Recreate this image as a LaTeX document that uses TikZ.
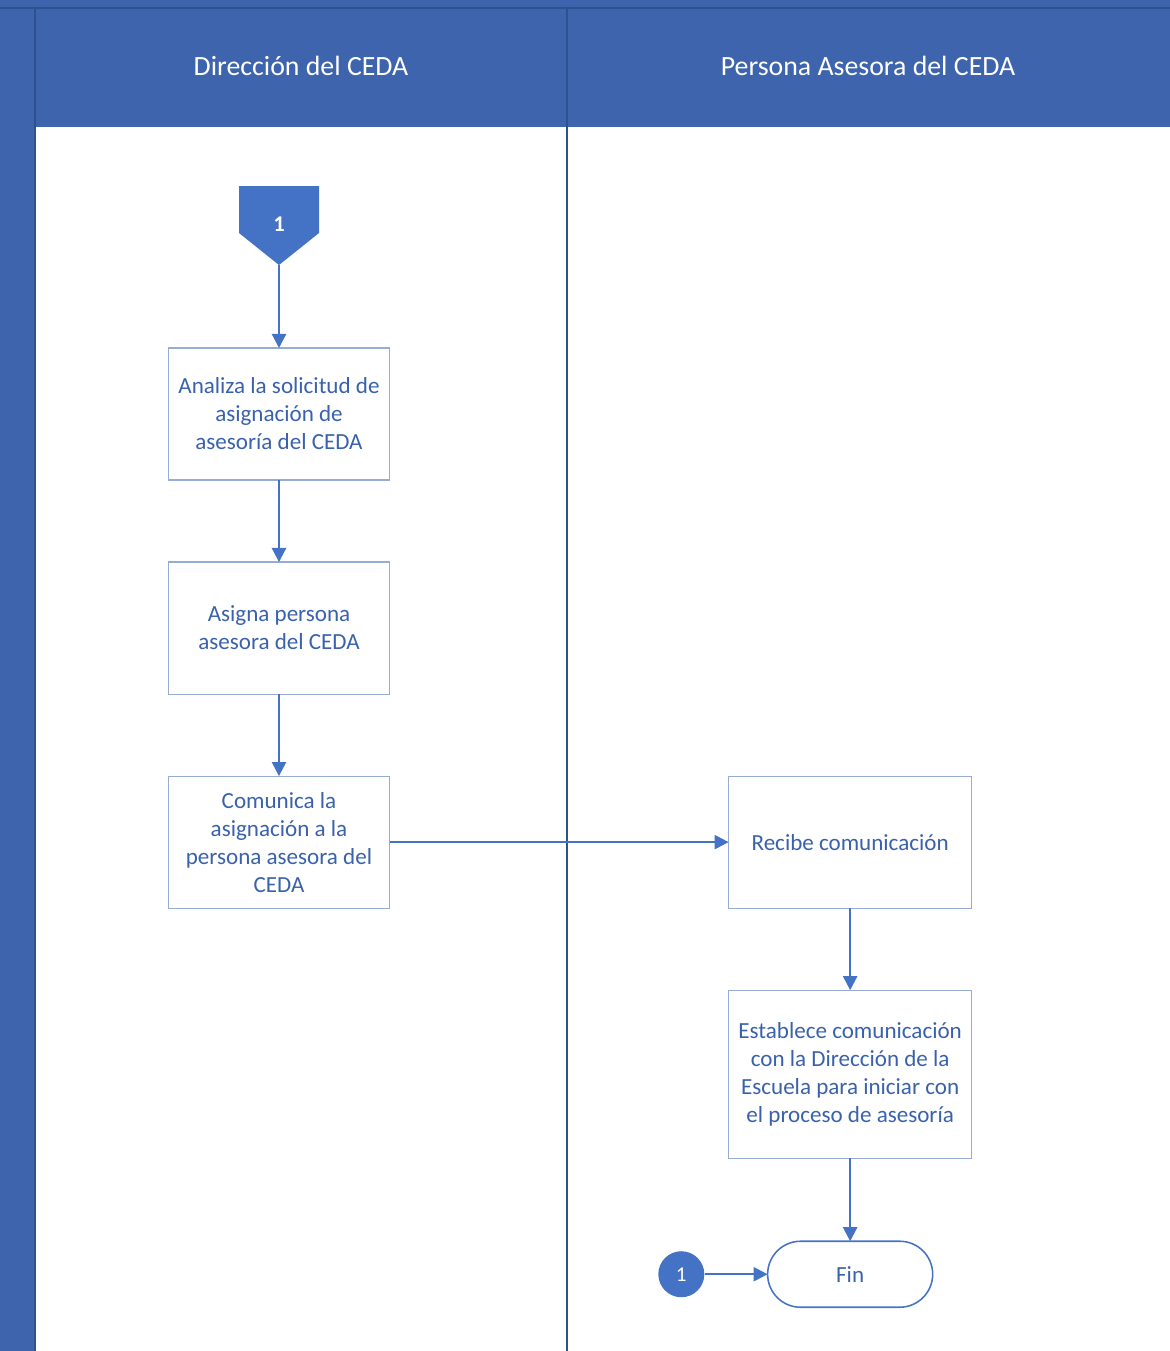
\documentclass[tikz,border=0pt]{standalone}
\usepackage{fontspec}
\setmainfont{Carlito}
\usetikzlibrary{arrows.meta,positioning}
\definecolor{hdrblue}{RGB}{61,100,173}
\definecolor{edgeblue}{RGB}{47,82,143}
\definecolor{lineblue}{RGB}{68,114,196}
\definecolor{txtblue}{RGB}{58,98,172}
\definecolor{boxline}{RGB}{150,172,212}

\tikzset{
  lane/.style={text=white,font=\fontsize{19.8}{24}\selectfont},
  taskbox/.style={draw=boxline,line width=0.8pt,fill=white,text=txtblue,
    minimum width=5.525cm,minimum height=3.3cm,align=center,outer sep=0pt,
    font=\fontsize{16.4}{19.9}\selectfont},
  endbox/.style={draw=lineblue,line width=1.1pt,rounded corners=0.825cm,text=txtblue,
    minimum width=4.125cm,minimum height=1.65cm,outer sep=0pt,
    font=\fontsize{16.4}{19.9}\selectfont},
  onpage/.style={circle,fill=lineblue,text=white,minimum size=1.15cm,inner sep=0pt,
    font=\fontsize{15}{17}\selectfont},
  flow/.style={->,draw=lineblue,line width=1.6pt}
}

\begin{document}
\begin{tikzpicture}[x=0.025cm,y=-0.025cm,>={Triangle[length=10pt,width=10pt]},node distance=2cm]
  \useasboundingbox (0,0) rectangle (1170,1351);
  % pools and lanes
  \fill[hdrblue] (0,0) rectangle (1170,127);
  \fill[hdrblue] (0,0) rectangle (35,1351);
  \draw[edgeblue,line width=0.8pt] (0,8) -- (1170,8);
  \draw[edgeblue,line width=0.8pt] (35,8) -- (35,1351);
  \draw[edgeblue,line width=1pt] (567,8) -- (567,1351);
  \node[lane] (h1) at (301,66) {Dirección del CEDA};
  \node[lane] (h2) at (868,66) {Persona Asesora del CEDA};

  % off-page connector
  \fill[lineblue] (239,186) -- (319,186) -- (319,233) -- (279,265) -- (239,233) -- cycle;
  \node[text=white,font=\fontsize{16}{18}\selectfont\bfseries] (off1) at (279,224) {1};
  \coordinate (offtip) at (279,265);

  \node[taskbox] (a1) at (279,414) {Analiza la solicitud de\\asignación de\\asesoría del CEDA};
  \node[taskbox] (a2) [below=2.05cm of a1] {Asigna persona\\asesora del CEDA};
  \node[taskbox] (a3) [below=2.05cm of a2] {Comunica la\\asignación a la\\persona asesora del\\CEDA};

  \node[taskbox,minimum width=6.075cm] (b1) [right=8.475cm of a3] {Recibe comunicación};
  \node[taskbox,minimum width=6.075cm,minimum height=4.2cm] (b2) [below=2.05cm of b1]
       {Establece comunicación\\con la Dirección de la\\Escuela para iniciar con\\el proceso de asesoría};
  \node[endbox] (fin) [below=2.075cm of b2] {Fin};
  \node[onpage] (c1) [left=1.575cm of fin] {1};

  \draw[flow] (offtip) -- (a1);
  \draw[flow] (a1) -- (a2);
  \draw[flow] (a2) -- (a3);
  \draw[flow] (a3) -- (b1);
  \draw[flow] (b1) -- (b2);
  \draw[flow] (b2) -- (fin);
  \draw[flow] (c1) -- (fin);
\end{tikzpicture}
\end{document}
